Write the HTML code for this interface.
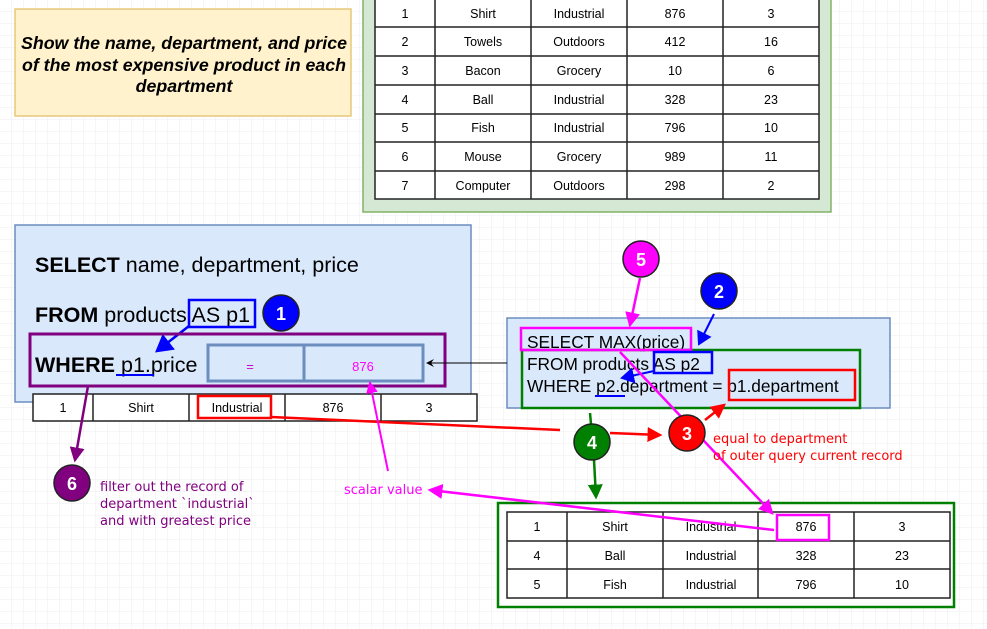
<!DOCTYPE html>
<html><head><meta charset="utf-8"><style>
body{margin:0;background:#fff}
svg{display:block;font-family:"Liberation Sans",sans-serif}
.u{font-family:"DejaVu Sans",sans-serif}
</style></head><body>
<svg width="987" height="629" viewBox="0 0 987 629" xmlns="http://www.w3.org/2000/svg">
<defs>
<pattern id="g" width="12" height="12" patternUnits="userSpaceOnUse"><path d="M12 0V12H0" fill="none" stroke="#eeeeee" stroke-width="1"/></pattern>
<marker id="ab" markerWidth="8" markerHeight="8" refX="6" refY="4" orient="auto" markerUnits="strokeWidth"><path d="M0,0 L7,4 L0,8 Z" fill="blue"/></marker>
<marker id="ak" markerWidth="8" markerHeight="8" refX="6" refY="4" orient="auto"><path d="M0,0 L8,4 L0,8 L3,4Z" fill="#000"/></marker>
<marker id="ar" markerWidth="6" markerHeight="6" refX="5" refY="3" orient="auto" markerUnits="strokeWidth"><path d="M0,0 L6,3 L0,6 Z" fill="red"/></marker>
<marker id="ap" markerWidth="6" markerHeight="6" refX="5" refY="3" orient="auto" markerUnits="strokeWidth"><path d="M0,0 L6,3 L0,6 Z" fill="#f0f"/></marker>
<marker id="ag" markerWidth="6" markerHeight="6" refX="5" refY="3" orient="auto" markerUnits="strokeWidth"><path d="M0,0 L6,3 L0,6 Z" fill="green"/></marker>
<marker id="av" markerWidth="6" markerHeight="6" refX="5" refY="3" orient="auto" markerUnits="strokeWidth"><path d="M0,0 L6,3 L0,6 Z" fill="purple"/></marker>
</defs>
<rect width="987" height="629" fill="url(#g)"/>

<!-- title note -->
<rect x="15" y="9" width="336" height="107" fill="#fff2cc" stroke="#e6c87a" stroke-width="1.5"/>
<g font-weight="bold" font-style="italic" font-size="17.8" text-anchor="middle">
<text x="184" y="49">Show the name, department, and price</text>
<text x="184" y="71">of the most expensive product in each</text>
<text x="184" y="92">department</text>
</g>

<!-- top table -->
<rect x="363" y="-2" width="468" height="214" fill="#d5e8d4" stroke="#82b366" stroke-width="1.5"/>
<rect x="375" y="-2" width="444" height="201" fill="#fff" stroke="#222" stroke-width="1.5"/>
<g stroke="#222" stroke-width="1.5">
<line x1="375" y1="27" x2="819" y2="27"/><line x1="375" y1="56" x2="819" y2="56"/><line x1="375" y1="85" x2="819" y2="85"/><line x1="375" y1="114" x2="819" y2="114"/><line x1="375" y1="142" x2="819" y2="142"/><line x1="375" y1="171" x2="819" y2="171"/>
<line x1="435" y1="-2" x2="435" y2="199"/><line x1="531" y1="-2" x2="531" y2="199"/><line x1="627" y1="-2" x2="627" y2="199"/><line x1="723" y1="-2" x2="723" y2="199"/>
</g>
<g font-size="12.5" text-anchor="middle">
<text x="405" y="18">1</text><text x="483" y="18">Shirt</text><text x="579" y="18">Industrial</text><text x="675" y="18">876</text><text x="771" y="18">3</text>
<text x="405" y="46">2</text><text x="483" y="46">Towels</text><text x="579" y="46">Outdoors</text><text x="675" y="46">412</text><text x="771" y="46">16</text>
<text x="405" y="75">3</text><text x="483" y="75">Bacon</text><text x="579" y="75">Grocery</text><text x="675" y="75">10</text><text x="771" y="75">6</text>
<text x="405" y="104">4</text><text x="483" y="104">Ball</text><text x="579" y="104">Industrial</text><text x="675" y="104">328</text><text x="771" y="104">23</text>
<text x="405" y="132">5</text><text x="483" y="132">Fish</text><text x="579" y="132">Industrial</text><text x="675" y="132">796</text><text x="771" y="132">10</text>
<text x="405" y="161">6</text><text x="483" y="161">Mouse</text><text x="579" y="161">Grocery</text><text x="675" y="161">989</text><text x="771" y="161">11</text>
<text x="405" y="190">7</text><text x="483" y="190">Computer</text><text x="579" y="190">Outdoors</text><text x="675" y="190">298</text><text x="771" y="190">2</text>
</g>

<!-- outer query box -->
<rect x="15" y="225" width="456" height="177" fill="#dae8fc" stroke="#6c8ebf" stroke-width="1.5"/>
<g font-size="21.5">
<text x="35" y="272"><tspan font-weight="bold">SELECT</tspan> name, department, price</text>
<text x="35" y="322"><tspan font-weight="bold">FROM</tspan> products AS p1</text>
<text x="35" y="372"><tspan font-weight="bold">WHERE</tspan> p1.price</text>
</g>
<rect x="189" y="300" width="66" height="27" fill="none" stroke="blue" stroke-width="2.5"/>
<line x1="116" y1="375" x2="154" y2="375" stroke="blue" stroke-width="2"/>
<line x1="189" y1="326" x2="157" y2="351" stroke="blue" stroke-width="2.5" marker-end="url(#ab)"/>
<rect x="30" y="334" width="415" height="52" fill="none" stroke="purple" stroke-width="3"/>
<rect x="208" y="345" width="215" height="36" fill="#dae8fc" stroke="#6c8ebf" stroke-width="3"/>
<line x1="304" y1="345" x2="304" y2="381" stroke="#6c8ebf" stroke-width="3"/>
<text x="250" y="371" font-size="13" fill="#c0c" text-anchor="middle">=</text>
<text x="363" y="371" font-size="13" fill="#f0f" text-anchor="middle">876</text>
<circle cx="281" cy="313" r="18" fill="blue" stroke="#222" stroke-width="1.5"/>
<text x="281" y="320" font-size="18" font-weight="bold" fill="#fff" text-anchor="middle">1</text>

<!-- row below -->
<rect x="33" y="394" width="444" height="27" fill="#fff" stroke="#222" stroke-width="1.5"/>
<g stroke="#222" stroke-width="1.5"><line x1="93" y1="394" x2="93" y2="421"/><line x1="189" y1="394" x2="189" y2="421"/><line x1="285" y1="394" x2="285" y2="421"/><line x1="381" y1="394" x2="381" y2="421"/></g>
<g font-size="12.5" text-anchor="middle"><text x="63" y="412">1</text><text x="141" y="412">Shirt</text><text x="237" y="412">Industrial</text><text x="333" y="412">876</text><text x="429" y="412">3</text></g>
<rect x="198" y="396" width="73" height="22" fill="none" stroke="red" stroke-width="2.5"/>

<!-- inner query box -->
<rect x="507" y="318" width="383" height="90" fill="#dae8fc" stroke="#6c8ebf" stroke-width="1.5"/>
<line x1="507" y1="363" x2="428" y2="363" stroke="#000" stroke-width="1" marker-end="url(#ak)"/>
<g font-size="17.3">
<text x="527" y="348">SELECT MAX(price)</text>
<text x="527" y="370">FROM products AS p2</text>
<text x="527" y="392">WHERE p2.department = p1.department</text>
</g>
<rect x="522" y="350" width="338" height="58" fill="none" stroke="green" stroke-width="2.5"/>
<rect x="521" y="328" width="170" height="22" fill="none" stroke="#f0f" stroke-width="2.5"/>
<rect x="654" y="352" width="58" height="21" fill="none" stroke="blue" stroke-width="2.5"/>
<rect x="729" y="370" width="126" height="30" fill="none" stroke="red" stroke-width="2.5"/>
<line x1="595" y1="396" x2="625" y2="396" stroke="blue" stroke-width="2"/>
<line x1="654" y1="371" x2="622" y2="378" stroke="blue" stroke-width="2" marker-end="url(#ab)"/>
<line x1="714" y1="314" x2="699" y2="344" stroke="blue" stroke-width="2" marker-end="url(#ab)"/>

<!-- bottom table -->
<rect x="498" y="503" width="456" height="104" fill="#fff" stroke="green" stroke-width="2.5"/>
<rect x="507" y="512" width="443" height="86" fill="#fff" stroke="#222" stroke-width="1.5"/>
<g stroke="#222" stroke-width="1.5"><line x1="507" y1="541" x2="950" y2="541"/><line x1="507" y1="569" x2="950" y2="569"/>
<line x1="567" y1="512" x2="567" y2="598"/><line x1="663" y1="512" x2="663" y2="598"/><line x1="758" y1="512" x2="758" y2="598"/><line x1="854" y1="512" x2="854" y2="598"/></g>
<g font-size="12.5" text-anchor="middle">
<text x="537" y="531">1</text><text x="615" y="531">Shirt</text><text x="711" y="531">Industrial</text><text x="806" y="531">876</text><text x="902" y="531">3</text>
<text x="537" y="560">4</text><text x="615" y="560">Ball</text><text x="711" y="560">Industrial</text><text x="806" y="560">328</text><text x="902" y="560">23</text>
<text x="537" y="589">5</text><text x="615" y="589">Fish</text><text x="711" y="589">Industrial</text><text x="806" y="589">796</text><text x="902" y="589">10</text>
</g>
<rect x="777" y="515" width="52" height="25" fill="none" stroke="#f0f" stroke-width="2.5"/>

<!-- connectors -->
<polyline points="271,417 560,430" fill="none" stroke="red" stroke-width="2.5"/>
<line x1="610" y1="433" x2="660" y2="435" stroke="red" stroke-width="2.5" marker-end="url(#ar)"/>
<line x1="705" y1="420" x2="724" y2="405" stroke="red" stroke-width="2.5" marker-end="url(#ar)"/>
<line x1="620" y1="352" x2="772" y2="513" stroke="#f0f" stroke-width="2.5" marker-end="url(#ap)"/>
<line x1="640" y1="278" x2="630" y2="325" stroke="#f0f" stroke-width="2.5" marker-end="url(#ap)"/>
<line x1="774" y1="530" x2="430" y2="490" stroke="#f0f" stroke-width="2.5" marker-end="url(#ap)"/>
<line x1="388" y1="471" x2="370" y2="383" stroke="#f0f" stroke-width="2" marker-end="url(#ap)"/>
<line x1="590" y1="413" x2="591" y2="424" stroke="green" stroke-width="2.5"/>
<line x1="594" y1="460" x2="596" y2="497" stroke="green" stroke-width="2.5" marker-end="url(#ag)"/>
<line x1="88" y1="386" x2="75" y2="460" stroke="purple" stroke-width="2.5" marker-end="url(#av)"/>

<!-- circles -->
<circle cx="641" cy="259" r="18" fill="#f0f" stroke="#222" stroke-width="1.5"/>
<text x="641" y="266" font-size="18" font-weight="bold" fill="#fff" text-anchor="middle">5</text>
<circle cx="719" cy="291" r="18" fill="blue" stroke="#222" stroke-width="1.5"/>
<text x="719" y="298" font-size="18" font-weight="bold" fill="#fff" text-anchor="middle">2</text>
<circle cx="687" cy="433" r="18" fill="red" stroke="#222" stroke-width="1.5"/>
<text x="687" y="440" font-size="18" font-weight="bold" fill="#fff" text-anchor="middle">3</text>
<circle cx="592" cy="442" r="18" fill="green" stroke="#222" stroke-width="1.5"/>
<text x="592" y="449" font-size="18" font-weight="bold" fill="#fff" text-anchor="middle">4</text>
<circle cx="72" cy="483" r="18" fill="purple" stroke="#222" stroke-width="1.5"/>
<text x="72" y="490" font-size="18" font-weight="bold" fill="#fff" text-anchor="middle">6</text>

<!-- annotations -->
<g class="u" font-size="13">
<text x="713" y="443" fill="red">equal to department</text>
<text x="713" y="460" fill="red">of outer query current record</text>
<text x="100" y="491" fill="purple">filter out the record of</text>
<text x="100" y="508" fill="purple">department `industrial`</text>
<text x="100" y="525" fill="purple">and with greatest price</text>
<text x="344" y="494" fill="#f0f">scalar value</text>
</g>
</svg>
</body></html>
